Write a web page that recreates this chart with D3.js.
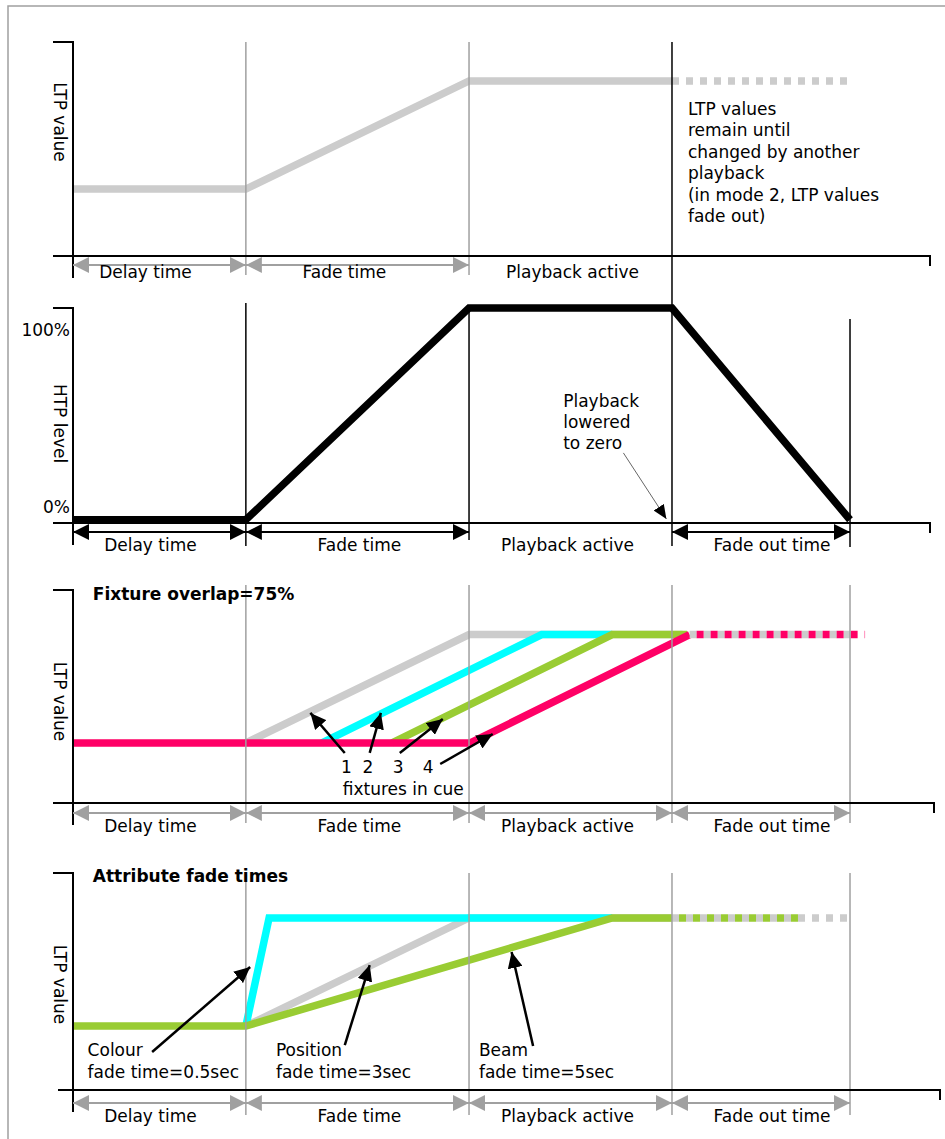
<!DOCTYPE html>
<html><head><meta charset="utf-8">
<script src="https://cdn.jsdelivr.net/npm/d3@7"></script>
<style>
body{margin:0;background:#fff}
text{font-family:"DejaVu Sans",Verdana,sans-serif;font-size:17px;fill:#000}
</style>
</head><body><script>
// ---------------- DATA ----------------
const phaseLabels = ["Delay time", "Fade time", "Playback active", "Fade out time"];
const phaseBounds = [0, 20.1, 46.05, 69.65, 90.35];

// Panel 1 : LTP value
const p1Time  = [0, 20.1, 46.05, 69.65];
const p1Value = [31.3, 31.3, 81.8, 81.8];
const p1HoldEnd = 90.35;
const p1Note = ["LTP values", "remain until", "changed by another", "playback", "(in mode 2, LTP values", "fade out)"];
const p1NotePos = [71.5, 65.9];

// Panel 2 : HTP level
const p2Time  = [0, 20.1, 46.05, 69.65, 90.35];
const p2Value = [1.5, 1.5, 100, 100, 1.5];
const p2TickValues = [89.8, 7.4];
const p2TickLabels = ["100%", "0%"];
const p2Note = ["Playback", "lowered", "to zero"];
const p2NotePos = [57.0, 54.0];
const p2Pointer = [[64.0, 32.6], [69.0, 1.9]];

// Panel 3 : fixture overlap
const p3Title = "Fixture overlap=75%";
const fixtureNames  = ["1", "2", "3", "4"];
const fixtureColors = ["#cccccc", "#00ffff", "#99cc33", "#ff0066"];
const fixtureStart  = [20.1, 28.95, 37.1, 46.2];
const fixtureEnd    = [46.05, 54.5, 62.7, 71.7];
const fixtureFlatEnd = [70.9, 62.7, 71.4, 71.7];
const fixtureLow = 28.2, fixtureHigh = 79.1;
const p3HoldEnds = [90.35, 92.1];           // gray hold, pink hold
const fixtureLabelX = [31.8, 34.3, 37.8, 41.3];
const fixtureLabelY = 14.1;
const p3Caption = "fixtures in cue";
const p3CaptionPos = [38.4, 3.8];
const fixturePointers = [
  [[31.6, 23.5], [27.6, 42.3]],
  [[34.5, 23.5], [35.8, 42.3]],
  [[38.0, 23.5], [43.0, 39.4]],
  [[42.7, 18.3], [48.8, 32.4]]
];

// Panel 4 : attribute fade times
const p4Title = "Attribute fade times";
const attrLow = 29.5, attrHigh = 79.3;
const colourPts   = [[20.1, attrLow], [22.8, attrHigh], [62.7, attrHigh]];
const positionPts = [[20.1, attrLow], [46.05, attrHigh], [69.65, attrHigh]];
const beamPts     = [[0, attrLow], [20.1, attrLow], [62.7, attrHigh], [69.65, attrHigh]];
const positionHoldEnd = 90.35, beamHoldEnd = 84.3;
const attrNames = ["Colour", "Position", "Beam"];
const attrFadeText = ["fade time=0.5sec", "fade time=3sec", "fade time=5sec"];
const attrLabelX = [1.7, 23.6, 47.2];
const attrLabelY = [15.7, 5.5];
const attrPointers = [
  [[9.2, 17.5], [20.6, 56.7]],
  [[31.6, 20.7], [34.5, 57.6]],
  [[53.5, 20.3], [51.0, 63.6]]
];

// ---------------- LAYOUT ----------------
const W = 945, H = 1139;
const svg = d3.select("body").append("svg").attr("width", W).attr("height", H);
const x = d3.scaleLinear().domain([0, 100]).range([73, 933]);
const panels = [
  {top: 42,  base: 256,  left: 53, right: 930, dimDy: 9,  labDy: 22, arrows: [0, 1],       color: "#a0a0a0", head: "arrGray",  labDx: [-14, -13, 2],      yLabDy: -27},
  {top: 308, base: 523,  left: 53, right: 930, dimDy: 9,  labDy: 28, arrows: [0, 1, 3],    color: "#000",    head: "arrBlack", labDx: [-9, 2, -3, 11],    yLabDy: 8},
  {top: 590, base: 803,  left: 53, right: 934, dimDy: 10, labDy: 29, arrows: [0, 1, 2, 3], color: "#a0a0a0", head: "arrGray",  labDx: [-9, 2, -3, 11],    yLabDy: 5},
  {top: 873, base: 1090, left: 58, right: 940, dimDy: 13, labDy: 32, arrows: [0, 1, 2, 3], color: "#a0a0a0", head: "arrGray",  labDx: [-9, 2, -3, 11],    yLabDy: 3}
];
panels.forEach(p => p.y = d3.scaleLinear().domain([0, 100]).range([p.base, p.top]));

const defs = svg.append("defs");
function marker(id, color, len, wid) {
  defs.append("marker").attr("id", id)
    .attr("viewBox", `0 0 ${len} ${wid}`)
    .attr("refX", len).attr("refY", wid / 2)
    .attr("markerWidth", len).attr("markerHeight", wid)
    .attr("markerUnits", "userSpaceOnUse")
    .attr("orient", "auto-start-reverse")
    .append("path").attr("d", `M0,0L${len},${wid / 2}L0,${wid}Z`).attr("fill", color);
}
marker("arrGray", "#a0a0a0", 16, 16);
marker("arrBlack", "#000", 16, 16);
marker("arrAnn", "#000", 16, 15);
marker("arrThin", "#000", 14, 12);

// frame
svg.append("path").attr("d", `M8,${H}V6H${W}`).attr("fill", "none").attr("stroke", "#a0a0a0").attr("stroke-width", 1.5);

function linePath(p, pts) {
  return d3.line().x(d => x(d[0])).y(d => p.y(d[1]))(pts);
}
function drawLine(g, p, pts, color, opts = {}) {
  const path = g.append("path").attr("d", linePath(p, pts))
    .attr("fill", "none").attr("stroke", color).attr("stroke-width", opts.w || 7.5)
    .attr("stroke-linejoin", "miter");
  if (opts.dash) path.attr("stroke-dasharray", "7,7").attr("stroke-dashoffset", opts.offset || 0);
  return path;
}
function drawPointer(g, p, pts, opts = {}) {
  g.append("line")
    .attr("x1", x(pts[0][0])).attr("y1", p.y(pts[0][1]))
    .attr("x2", x(pts[1][0])).attr("y2", p.y(pts[1][1]))
    .attr("stroke", opts.color || "#000").attr("stroke-width", opts.w || 2.5)
    .attr("marker-end", `url(#${opts.head || "arrAnn"})`);
}
function drawFrameAxes(g, p) {
  g.append("path").attr("d", `M${p.left},${p.base}H${p.right}v10`)
    .attr("fill", "none").attr("stroke", "#000").attr("stroke-width", 2);
  g.append("path").attr("d", `M53,${p.top}H${x(0)}V${p.base + 22}`)
    .attr("fill", "none").attr("stroke", "#000").attr("stroke-width", 2);
}
function drawPhases(g, p) {
  const dy = p.base + p.dimDy;
  p.arrows.forEach(i => {
    g.append("line").attr("x1", x(phaseBounds[i])).attr("x2", x(phaseBounds[i + 1]))
      .attr("y1", dy).attr("y2", dy)
      .attr("stroke", p.color).attr("stroke-width", 2)
      .attr("marker-start", `url(#${p.head})`).attr("marker-end", `url(#${p.head})`);
  });
  g.selectAll("text.phase").data(phaseLabels.slice(0, p.labDx.length)).enter().append("text")
    .attr("class", "phase")
    .attr("x", (d, i) => (x(phaseBounds[i]) + x(phaseBounds[i + 1])) / 2 + p.labDx[i])
    .attr("y", p.base + p.labDy)
    .attr("text-anchor", "middle").text(d => d);
}
function yLabel(g, p, txt) {
  g.append("text").attr("transform", `translate(54,${(p.top + p.base) / 2 + p.yLabDy}) rotate(90)`)
    .attr("text-anchor", "middle").text(txt);
}
function vlines(g, xs, y1, y2, color) {
  g.selectAll(null).data(xs).enter().append("line")
    .attr("x1", d => x(d)).attr("x2", d => x(d))
    .attr("y1", y1).attr("y2", y2)
    .attr("stroke", color).attr("stroke-width", 1.5);
}

// ---------- Panel 1 ----------
{
  const p = panels[0];
  const g = svg.append("g");
  const pts = p1Time.map((t, i) => [t, p1Value[i]]);
  drawLine(g, p, pts, "#cccccc");
  drawLine(g, p, [[p1Time[p1Time.length - 1], p1Value[p1Value.length - 1]], [p1HoldEnd, p1Value[p1Value.length - 1]]], "#cccccc", {dash: true});
  vlines(g, [phaseBounds[1], phaseBounds[2]], 42, 275, "#a0a0a0");
  vlines(g, [phaseBounds[3]], 42, 546, "#000");
  drawFrameAxes(g, p);
  drawPhases(g, p);
  yLabel(g, p, "LTP value");
  const t = g.append("text").attr("x", x(p1NotePos[0])).attr("y", p.y(p1NotePos[1]));
  p1Note.forEach((s, i) => t.append("tspan").attr("x", x(p1NotePos[0])).attr("dy", i ? 21.4 : 0).text(s));
}

// ---------- Panel 2 ----------
{
  const p = panels[1];
  const g = svg.append("g");
  const pts = p2Time.map((t, i) => [t, p2Value[i]]);
  vlines(g, [phaseBounds[1]], 303, 546, "#000");
  vlines(g, [phaseBounds[2]], 308, 540, "#000");
  vlines(g, [phaseBounds[4]], 319, 547, "#000");
  drawLine(g, p, pts, "#000");
  drawFrameAxes(g, p);
  drawPhases(g, p);
  yLabel(g, p, "HTP level");
  const ax = g.append("g").attr("transform", `translate(${x(0)},0)`)
    .call(d3.axisLeft(p.y).tickValues(p2TickValues).tickFormat((d, i) => p2TickLabels[i]).tickSize(0).tickPadding(3));
  ax.select(".domain").remove();
  ax.selectAll("text").attr("font-size", null).attr("font-family", null).style("font-size", "17px");
  const t = g.append("text").attr("x", x(p2NotePos[0])).attr("y", p.y(p2NotePos[1]));
  p2Note.forEach((s, i) => t.append("tspan").attr("x", x(p2NotePos[0])).attr("dy", i ? 21 : 0).text(s));
  drawPointer(g, p, p2Pointer, {color: "#666", w: 1, head: "arrThin"});
}

// ---------- Panel 3 ----------
{
  const p = panels[2];
  const g = svg.append("g");
  fixtureNames.forEach((n, i) => {
    const pts = [];
    if (i === fixtureNames.length - 1) pts.push([0, fixtureLow]);
    pts.push([fixtureStart[i], fixtureLow], [fixtureEnd[i], fixtureHigh], [fixtureFlatEnd[i], fixtureHigh]);
    drawLine(g, p, pts, fixtureColors[i]);
  });
  const last = fixtureEnd[fixtureEnd.length - 1];
  drawLine(g, p, [[last, fixtureHigh], [p3HoldEnds[0], fixtureHigh]], fixtureColors[0], {dash: true});
  drawLine(g, p, [[last, fixtureHigh], [p3HoldEnds[1], fixtureHigh]], fixtureColors[3], {dash: true, offset: 7});
  vlines(g, phaseBounds.slice(1), 585, 823, "#a0a0a0");
  drawFrameAxes(g, p);
  drawPhases(g, p);
  yLabel(g, p, "LTP value");
  g.append("text").attr("x", x(2.3)).attr("y", p.y(95.3)).attr("font-weight", "bold").text(p3Title);
  fixtureNames.forEach((n, i) => {
    g.append("text").attr("x", x(fixtureLabelX[i])).attr("y", p.y(fixtureLabelY)).attr("text-anchor", "middle").text(n);
    drawPointer(g, p, fixturePointers[i]);
  });
  g.append("text").attr("x", x(p3CaptionPos[0])).attr("y", p.y(p3CaptionPos[1])).attr("text-anchor", "middle").text(p3Caption);
}

// ---------- Panel 4 ----------
{
  const p = panels[3];
  const g = svg.append("g");
  drawLine(g, p, positionPts, "#cccccc");
  drawLine(g, p, colourPts, "#00ffff");
  drawLine(g, p, beamPts, "#99cc33");
  const lastT = positionPts[positionPts.length - 1][0];
  drawLine(g, p, [[lastT, attrHigh], [positionHoldEnd, attrHigh]], "#cccccc", {dash: true});
  drawLine(g, p, [[lastT, attrHigh], [beamHoldEnd, attrHigh]], "#99cc33", {dash: true, offset: 7});
  vlines(g, phaseBounds.slice(1), 873, 1115, "#a0a0a0");
  drawFrameAxes(g, p);
  drawPhases(g, p);
  yLabel(g, p, "LTP value");
  g.append("text").attr("x", x(2.3)).attr("y", p.y(95.9)).attr("font-weight", "bold").text(p4Title);
  attrNames.forEach((n, i) => {
    g.append("text").attr("x", x(attrLabelX[i])).attr("y", p.y(attrLabelY[0])).text(n);
    g.append("text").attr("x", x(attrLabelX[i])).attr("y", p.y(attrLabelY[1])).text(attrFadeText[i]);
    drawPointer(g, p, attrPointers[i]);
  });
}
</script></body></html>
